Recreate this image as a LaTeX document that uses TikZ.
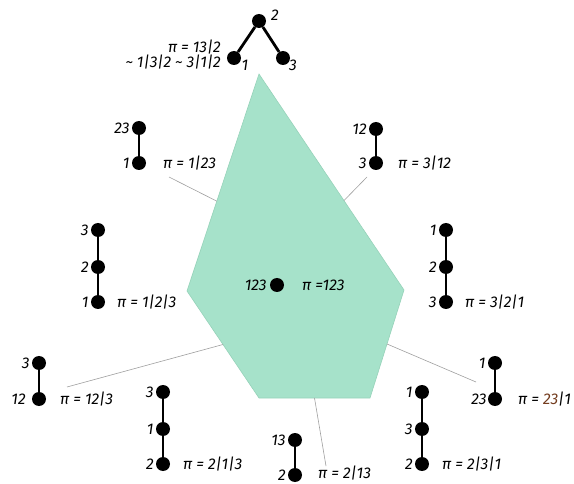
\documentclass[tikz,border=0pt]{standalone}
\usepackage{fontspec}
\setmainfont{Fira Sans}
\usetikzlibrary{calc}
\definecolor{mint}{RGB}{166,226,202}
\definecolor{mintedge}{RGB}{150,210,185}
\definecolor{brn}{RGB}{115,60,30}
\begin{document}
\begin{tikzpicture}[x=1pt,y=-1pt,
  dot/.style={circle,fill=black,inner sep=0pt,minimum size=14pt},
  lab/.style={font=\fontsize{15.5}{17}\selectfont\itshape,inner sep=0pt},
  chainline/.style={line width=2.8pt},
  leader/.style={draw=gray!75,line width=0.6pt}]
\useasboundingbox (0,0) rectangle (574,484);
% polytope
\coordinate (T) at (259,74);
\coordinate (R) at (404,290);
\coordinate (BR) at (370,398);
\coordinate (BL) at (259,398);
\coordinate (L) at (187,291);
\filldraw[fill=mint,draw=mintedge,line width=0.6pt] (T) -- (R) -- (BR) -- (BL) -- (L) -- cycle;
% edge points
\coordinate (eTL) at ($(T)!0.586!(L)$);
\coordinate (eTR) at ($(T)!0.586!(R)$);
\coordinate (eLB) at ($(L)!0.5!(BL)$);
\coordinate (eB) at ($(BL)!0.5!(BR)$);
\coordinate (eRB) at ($(BR)!0.5!(R)$);
% leader free ends
\coordinate (f123) at (169,177);
\coordinate (f312) at (367,177);
\coordinate (f123b) at (67,387);
\coordinate (f213) at (326,466);
\coordinate (f231) at (476,382);
\draw[leader] (f123) -- (eTL);
\draw[leader] (f312) -- (eTR);
\draw[leader] (f123b) -- (eLB);
\draw[leader] (f213) -- (eB);
\draw[leader] (f231) -- (eRB);
% centre
\node[dot] (c) at (277,285) {};
\node[lab,anchor=east] at ([xshift=-3pt]c.west) {123};
\node[lab,anchor=west] at (302,285) {π =123};
% top tree
\node[dot] (t2) at (259,21) {};
\node[dot] (t1) at (234,58) {};
\node[dot] (t3) at (283,58) {};
\draw[chainline] (t1) -- (t2) -- (t3);
\node[lab] at (275,15) {2};
\node[lab] at (245,65) {1};
\node[lab] at (293,65) {3};
\node[lab,anchor=east] at (221,47) {π = 13|2};
\node[lab,anchor=east] at (221,62) {\char"7E\ 1|3|2 \char"7E\ 3|1|2};
% 1|23
\node[dot] (a1) at (139,128) {};
\node[dot] (a2) at (139,163) {};
\draw[chainline] (a1) -- (a2);
\node[lab,anchor=east] at ([xshift=-2pt]a1.west) {23};
\node[lab,anchor=east] at ([xshift=-2pt]a2.west) {1};
\node[lab,anchor=west] at (163,163) {π = 1|23};
% 3|12
\node[dot] (b1) at (376,129) {};
\node[dot] (b2) at (376,163) {};
\draw[chainline] (b1) -- (b2);
\node[lab,anchor=east] at ([xshift=-2pt]b1.west) {12};
\node[lab,anchor=east] at ([xshift=-2pt]b2.west) {3};
\node[lab,anchor=west] at (398,163) {π = 3|12};
% 1|2|3
\node[dot] (c1) at (98,230) {};
\node[dot] (c2) at (98,267) {};
\node[dot] (c3) at (98,302) {};
\draw[chainline] (c1) -- (c2) -- (c3);
\node[lab,anchor=east] at ([xshift=-2pt]c1.west) {3};
\node[lab,anchor=east] at ([xshift=-2pt]c2.west) {2};
\node[lab,anchor=east] at ([xshift=-2pt]c3.west) {1};
\node[lab,anchor=west] at (117,302) {π = 1|2|3};
% 3|2|1
\node[dot] (d1) at (446,230) {};
\node[dot] (d2) at (446,267) {};
\node[dot] (d3) at (446,302) {};
\draw[chainline] (d1) -- (d2) -- (d3);
\node[lab,anchor=east] at ([xshift=-2pt]d1.west) {1};
\node[lab,anchor=east] at ([xshift=-2pt]d2.west) {2};
\node[lab,anchor=east] at ([xshift=-2pt]d3.west) {3};
\node[lab,anchor=west] at (465,302) {π = 3|2|1};
% 12|3
\node[dot] (e1) at (39,363) {};
\node[dot] (e2) at (39,399) {};
\draw[chainline] (e1) -- (e2);
\node[lab,anchor=east] at ([xshift=-2pt]e1.west) {3};
\node[lab,anchor=east] at ([xshift=-6pt]e2.west) {12};
\node[lab,anchor=west] at (60,399) {π = 12|3};
% 2|1|3
\node[dot] (g1) at (163,392) {};
\node[dot] (g2) at (163,429) {};
\node[dot] (g3) at (163,464) {};
\draw[chainline] (g1) -- (g2) -- (g3);
\node[lab,anchor=east] at ([xshift=-2pt]g1.west) {3};
\node[lab,anchor=east] at ([xshift=-2pt]g2.west) {1};
\node[lab,anchor=east] at ([xshift=-2pt]g3.west) {2};
\node[lab,anchor=west] at (183,464) {π = 2|1|3};
% 2|13
\node[dot] (h1) at (295,440) {};
\node[dot] (h2) at (295,475) {};
\draw[chainline] (h1) -- (h2);
\node[lab,anchor=east] at ([xshift=-2pt]h1.west) {13};
\node[lab,anchor=east] at ([xshift=-2pt]h2.west) {2};
\node[lab,anchor=west] at (318,473) {π = 2|13};
% 2|3|1
\node[dot] (k1) at (422,392) {};
\node[dot] (k2) at (422,429) {};
\node[dot] (k3) at (422,464) {};
\draw[chainline] (k1) -- (k2) -- (k3);
\node[lab,anchor=east] at ([xshift=-2pt]k1.west) {1};
\node[lab,anchor=east] at ([xshift=-2pt]k2.west) {3};
\node[lab,anchor=east] at ([xshift=-2pt]k3.west) {2};
\node[lab,anchor=west] at (442,464) {π = 2|3|1};
% 23|1
\node[dot] (m1) at (495,363) {};
\node[dot] (m2) at (495,399) {};
\draw[chainline] (m1) -- (m2);
\node[lab,anchor=east] at ([xshift=-2pt]m1.west) {1};
\node[lab,anchor=east] at ([xshift=-1pt]m2.west) {23};
\node[lab,anchor=west] at (518,399) {π = {\color{brn}23}|1};
\end{tikzpicture}
\end{document}
